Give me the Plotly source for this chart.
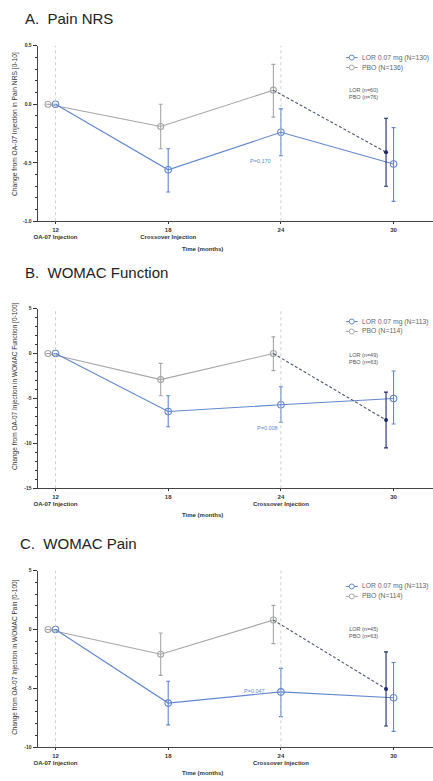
import plotly.graph_objects as go

W, H = 433, 781

months = [12, 18, 24, 30]
tick_sub_A = ["OA-07 Injection", "Crossover Injection", "", ""]
tick_sub_BC = ["OA-07 Injection", "", "Crossover Injection", ""]

# Panel A: Pain NRS
a_pbo = [0.0, -0.19, 0.12]
a_pbo_lo = [0.0, -0.38, -0.11]
a_pbo_hi = [0.0, 0.0, 0.34]
a_lor = [0.0, -0.56, -0.24, -0.51]
a_lor_lo = [0.0, -0.75, -0.44, -0.83]
a_lor_hi = [0.0, -0.38, -0.04, -0.20]
a_xo = -0.41
a_xo_lo = -0.70
a_xo_hi = -0.12

# Panel B: WOMAC Function
b_pbo = [0.0, -2.9, 0.0]
b_pbo_lo = [0.0, -4.7, -1.9]
b_pbo_hi = [0.0, -1.1, 1.85]
b_lor = [0.0, -6.45, -5.7, -5.0]
b_lor_lo = [0.0, -8.15, -7.65, -7.85]
b_lor_hi = [0.0, -4.7, -3.7, -1.95]
b_xo = -7.4
b_xo_lo = -10.5
b_xo_hi = -4.3

# Panel C: WOMAC Pain
c_pbo = [0.0, -2.1, 0.8]
c_pbo_lo = [0.0, -3.9, -1.2]
c_pbo_hi = [0.0, -0.3, 2.05]
c_lor = [0.0, -6.25, -5.3, -5.8]
c_lor_lo = [0.0, -8.1, -7.4, -8.65]
c_lor_hi = [0.0, -4.4, -3.3, -2.8]
c_xo = -5.05
c_xo_lo = -8.2
c_xo_hi = -1.9

panels = [
    dict(title="A.  Pain NRS",
         ylabel="Change from OA-07 Injection in Pain NRS [0-10]",
         yr=[-1.0, 0.5], minor=0.1, ticks=[0.5, 0.0, -0.5, -1.0],
         ticklabels=["0.5", "0.0", "-0.5", "-1.0"],
         pbo=a_pbo, pbo_lo=a_pbo_lo, pbo_hi=a_pbo_hi,
         lor=a_lor, lor_lo=a_lor_lo, lor_hi=a_lor_hi,
         xo=a_xo, xo_lo=a_xo_lo, xo_hi=a_xo_hi,
         nlor="LOR 0.07 mg (N=130)", npbo="PBO (N=136)",
         ntext="LOR (n=60)<br>PBO (n=76)", ptext="P=0.170",
         sub=tick_sub_A, top=43, bot=220,
         title_xy=(19, 16), ylab_y=122, ylab_size=6.7, leg_y=(55, 65), n_y=91.5,
         p_pos=(22.9, -0.483), xt_y=248),
    dict(title="B.  WOMAC Function",
         ylabel="Change from OA-07 Injection in WOMAC Function [0-100]",
         yr=[-15, 5], minor=1, ticks=[5, 0, -5, -10, -15],
         ticklabels=["5", "0", "-5", "-10", "-15"],
         pbo=b_pbo, pbo_lo=b_pbo_lo, pbo_hi=b_pbo_hi,
         lor=b_lor, lor_lo=b_lor_lo, lor_hi=b_lor_hi,
         xo=b_xo, xo_lo=b_xo_lo, xo_hi=b_xo_hi,
         nlor="LOR 0.07 mg (N=113)", npbo="PBO (N=114)",
         ntext="LOR (n=49)<br>PBO (n=63)", ptext="P=0.008",
         sub=tick_sub_BC, top=308, bot=489,
         title_xy=(19, 272), ylab_y=386, ylab_size=6.5, leg_y=(321, 331), n_y=358.5,
         p_pos=(23.3, -8.26), xt_y=516),
    dict(title="C.  WOMAC Pain",
         ylabel="Change from OA-07 Injection in WOMAC Pain [0-100]",
         yr=[-10, 5], minor=1, ticks=[5, 0, -5, -10],
         ticklabels=["5", "0", "-5", "-10"],
         pbo=c_pbo, pbo_lo=c_pbo_lo, pbo_hi=c_pbo_hi,
         lor=c_lor, lor_lo=c_lor_lo, lor_hi=c_lor_hi,
         xo=c_xo, xo_lo=c_xo_lo, xo_hi=c_xo_hi,
         nlor="LOR 0.07 mg (N=113)", npbo="PBO (N=114)",
         ntext="LOR (n=45)<br>PBO (n=63)", ptext="P=0.047",
         sub=tick_sub_BC, top=572, bot=750,
         title_xy=(14, 545), ylab_y=659, ylab_size=6.5, leg_y=(588, 598), n_y=634,
         p_pos=(22.6, -5.19), xt_y=776),
]

BLUE = "#6287cf"
GRAY = "#a6a6a6"
NAVY = "#1e2a6b"
DASH = "#4f5670"
TXT = "#333333"
FONT = "Liberation Sans, Arial, sans-serif"
PBO_SHIFT = -0.4
XL = 34
X0, X1 = 11.05, 32.1

fig = go.Figure()
annotations = []
shapes = []


def px_x(p):
    return p / W


def px_y(p):
    return 1 - p / H


for i, p in enumerate(panels):
    sfx = "" if i == 0 else str(i + 1)
    xa, ya = "x" + sfx, "y" + sfx

    px_pbo = [m + PBO_SHIFT for m in months[:3]]
    fig.add_trace(go.Scatter(
        x=px_pbo, y=p["pbo"], xaxis=xa, yaxis=ya, mode="lines+markers",
        name=p["npbo"], showlegend=False,
        line=dict(color=GRAY, width=1.1),
        marker=dict(symbol="circle-open", size=6, color=GRAY, line=dict(width=1.1)),
        error_y=dict(type="data", symmetric=False,
                     array=[h - m for h, m in zip(p["pbo_hi"], p["pbo"])],
                     arrayminus=[m - l for l, m in zip(p["pbo_lo"], p["pbo"])],
                     color=GRAY, thickness=1.1, width=2),
    ))
    fig.add_trace(go.Scatter(
        x=months, y=p["lor"], xaxis=xa, yaxis=ya, mode="lines+markers",
        name=p["nlor"], showlegend=False,
        line=dict(color=BLUE, width=1.1),
        marker=dict(symbol="circle-open", size=6.5, color=BLUE, line=dict(width=1.1)),
        error_y=dict(type="data", symmetric=False,
                     array=[h - m for h, m in zip(p["lor_hi"], p["lor"])],
                     arrayminus=[m - l for l, m in zip(p["lor_lo"], p["lor"])],
                     color=BLUE, thickness=1.1, width=2),
    ))
    fig.add_trace(go.Scatter(
        x=[months[2] + PBO_SHIFT, months[3] + PBO_SHIFT], y=[p["pbo"][2], p["xo"]],
        xaxis=xa, yaxis=ya, mode="lines", showlegend=False,
        line=dict(color=DASH, width=1.1, dash="3px,2px"),
    ))
    fig.add_trace(go.Scatter(
        x=[months[3] + PBO_SHIFT], y=[p["xo"]], xaxis=xa, yaxis=ya,
        mode="markers", showlegend=False,
        marker=dict(symbol="circle", size=4, color=NAVY),
        error_y=dict(type="data", symmetric=False,
                     array=[p["xo_hi"] - p["xo"]], arrayminus=[p["xo"] - p["xo_lo"]],
                     color=NAVY, thickness=1.1, width=2),
    ))

    ydom = [px_y(p["bot"]), px_y(p["top"])]
    ticktext = [f"<b>{m}</b>" + (f"<br><b>{s}</b>" if s else "") for m, s in zip(months, p["sub"])]
    fig.layout["xaxis" + sfx] = dict(
        domain=[px_x(XL), 1.0], range=[X0, X1], anchor=ya,
        tickmode="array", tickvals=months, ticktext=ticktext,
        ticks="outside", ticklen=2, tickcolor=TXT, tickwidth=1,
        showline=True, linecolor="#444", linewidth=1.2, showgrid=False, zeroline=False,
        tickfont=dict(size=6, color=TXT, family=FONT),
    )
    fig.layout["yaxis" + sfx] = dict(
        domain=ydom, range=p["yr"], anchor=xa,
        tickmode="array", tickvals=p["ticks"],
        ticktext=[f"<b>{t}</b>" for t in p["ticklabels"]],
        ticks="outside", ticklen=4, tickcolor=TXT, tickwidth=1,
        minor=dict(dtick=p["minor"], ticks="outside", ticklen=2, tickcolor=TXT, showgrid=False),
        showline=True, linecolor="#444", linewidth=1.2, showgrid=False, zeroline=False,
        tickfont=dict(size=5, color=TXT, family=FONT),
    )
    for vx in (12, 24):
        shapes.append(dict(type="line", xref=xa, yref=ya + " domain", x0=vx, x1=vx,
                           y0=0, y1=1, line=dict(color="#c4c4c4", width=0.8, dash="dot")))
    for (label, col), ly in zip([(p["nlor"], BLUE), (p["npbo"], GRAY)], p["leg_y"]):
        shapes.append(dict(type="line", xref="paper", yref="paper",
                           x0=px_x(345), x1=px_x(357), y0=px_y(ly), y1=px_y(ly),
                           line=dict(color=col, width=1)))
        shapes.append(dict(type="circle", xref="paper", yref="paper",
                           x0=px_x(348.5), x1=px_x(353.5), y0=px_y(ly + 2.5), y1=px_y(ly - 2.5),
                           fillcolor="white", line=dict(color=col, width=1)))
        annotations.append(dict(text=label, xref="paper", yref="paper",
                                x=px_x(359), y=px_y(ly), xanchor="left", yanchor="middle",
                                showarrow=False, font=dict(size=6.8, color="#666", family=FONT)))
    annotations.append(dict(text=p["title"], xref="paper", yref="paper",
                            x=px_x(p["title_xy"][0]), y=px_y(p["title_xy"][1]),
                            xanchor="left", yanchor="middle",
                            showarrow=False, font=dict(size=15, color="#222", family=FONT)))
    annotations.append(dict(text=p["ylabel"], xref="paper", yref="paper", textangle=-90,
                            x=px_x(11), y=px_y(p["ylab_y"]), xanchor="center", yanchor="middle",
                            showarrow=False, font=dict(size=p["ylab_size"], color=TXT, family=FONT)))
    annotations.append(dict(text="<b>Time (months)</b>", xref="paper", yref="paper",
                            x=px_x(200), y=px_y(p["xt_y"]), xanchor="center", yanchor="middle",
                            showarrow=False, font=dict(size=6, color=TXT, family=FONT)))
    annotations.append(dict(text=p["ntext"], xref=xa, yref="paper",
                            x=28.4, y=px_y(p["n_y"]), xanchor="center", yanchor="middle",
                            showarrow=False, font=dict(size=5.5, color="#555", family=FONT)))
    annotations.append(dict(text=p["ptext"], xref=xa, yref=ya,
                            x=p["p_pos"][0], y=p["p_pos"][1], xanchor="center", yanchor="middle",
                            showarrow=False, font=dict(size=5.5, color=BLUE, family=FONT)))

fig.update_layout(
    width=W, height=H, autosize=False,
    margin=dict(l=0, r=0, t=0, b=0),
    paper_bgcolor="white", plot_bgcolor="white",
    annotations=annotations, shapes=shapes,
    font=dict(family=FONT), showlegend=False,
)

fig.write_html("out.html", config={"displayModeBar": False},
               post_script="document.body.style.margin='0px';")
